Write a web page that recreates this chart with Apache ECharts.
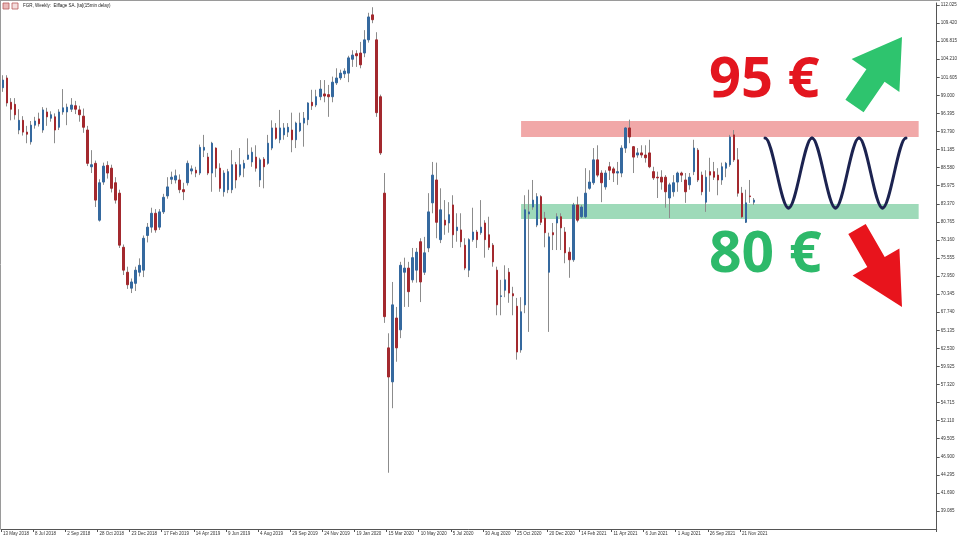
<!DOCTYPE html>
<html>
<head>
<meta charset="utf-8">
<script src="https://cdn.jsdelivr.net/npm/echarts@6/dist/echarts.min.js"></script>
<style>
html,body{margin:0;padding:0;background:#fff;}
#chart{width:960px;height:540px;}
</style>
</head>
<body>
<div id="chart"></div>
<script>
// ---- Data (weekly candles, Eiffage SA, from 13 May 2018) ----
const opens = [100.1,101.5,98.0,97.7,94.0,95.4,93.7,92.3,94.7,95.6,94.0,96.6,95.7,95.9,94.4,96.6,96.6,97.0,97.5,96.9,
96.0,94.0,88.7,89.2,81.0,86.5,88.9,88.5,86.4,84.9,77.1,73.5,71.2,71.9,73.5,73.8,78.8,80.0,82.0,80.0,
82.2,84.5,86.9,86.8,86.8,85.4,86.4,88.1,88.2,87.8,91.1,90.1,87.8,91.4,88.5,85.1,85.4,85.4,89.0,87.5,
88.5,89.8,89.4,90.1,86.8,89.8,89.2,91.4,94.3,92.6,93.3,93.7,94.0,92.6,93.9,95.0,95.5,98.0,97.6,98.8,
99.2,99.1,98.8,100.8,101.5,102.1,102.2,104.2,105.0,105.1,105.1,107.0,110.6,107.0,98.8,84.9,62.6,57.7,66.9,65.2,
73.5,74.1,72.4,73.8,77.9,73.5,77.0,83.5,86.8,78.2,81.0,80.6,83.2,79.5,79.6,77.4,73.8,78.2,79.3,79.2,
80.6,78.9,77.4,73.8,70.0,70.9,73.5,70.4,68.6,62.3,68.8,81.9,82.9,80.3,84.4,81.3,73.5,79.2,80.6,81.5,
79.3,76.4,75.3,83.2,81.5,81.5,85.6,86.4,89.7,87.8,85.8,88.7,88.4,87.8,87.8,91.4,94.3,91.6,90.4,90.7,
90.4,90.7,88.0,87.2,87.2,87.2,84.2,85.1,86.5,87.8,86.8,86.1,88.0,91.1,87.5,83.6,88.0,88.0,87.5,86.8,
88.5,89.0,93.3,89.7,84.9,80.7,84.5,83.6];
const closes = [101.2,97.9,97.0,96.2,95.4,93.7,93.4,94.7,95.3,94.9,96.9,95.9,96.2,94.0,96.6,97.2,97.3,97.6,97.0,96.2,
94.4,89.2,89.0,83.9,86.4,88.8,87.8,85.6,83.9,77.4,73.8,71.7,72.1,73.8,74.5,78.4,80.0,82.0,79.6,82.2,
84.3,85.8,87.2,87.4,85.4,85.1,89.2,88.4,87.8,91.5,91.5,87.8,92.1,88.5,85.6,87.8,88.0,89.0,86.8,89.0,
89.2,90.4,90.8,88.5,89.7,88.7,92.1,94.3,92.8,94.3,94.3,94.4,92.6,95.0,95.0,95.7,97.9,97.5,98.8,99.9,
98.9,98.8,100.9,101.5,102.2,102.5,104.4,104.8,104.7,103.4,107.0,110.3,109.9,96.5,90.7,67.1,58.4,68.8,62.6,74.5,
74.1,70.7,75.6,76.4,72.1,76.3,82.2,87.5,80.7,82.5,80.3,81.8,78.9,80.0,77.9,74.1,78.2,79.3,78.2,80.0,
78.2,77.1,75.0,68.8,70.1,72.4,70.5,70.1,62.0,67.8,82.5,82.2,83.9,84.4,80.7,79.2,78.6,78.9,81.5,79.9,
76.3,75.3,83.2,81.0,82.9,84.9,86.5,89.7,87.5,86.4,87.8,88.2,87.8,88.0,91.4,94.3,93.0,90.1,90.7,90.4,
90.0,88.7,87.1,87.1,86.5,85.1,86.1,86.4,87.8,87.5,85.1,87.2,91.4,86.8,85.1,87.2,87.5,87.2,86.8,88.7,
89.2,93.0,89.7,84.9,81.5,83.5,84.4,83.9];
const lows = [99.5,97.4,95.4,95.5,93.4,93.2,92.1,91.9,94.2,94.5,93.6,94.6,95.2,92.1,94.0,96.2,94.7,96.6,96.3,95.2,
93.6,88.8,87.8,82.9,80.8,86.1,87.0,85.0,83.4,77.0,73.1,71.1,70.5,70.8,72.9,72.8,77.8,79.2,79.2,79.6,
81.9,84.1,86.2,86.3,84.9,83.9,86.0,87.6,87.2,87.5,90.1,87.5,85.1,87.2,85.1,84.4,84.9,84.9,85.6,87.2,
87.2,89.7,88.7,88.0,85.8,85.6,89.0,91.1,92.6,92.1,92.6,93.0,90.8,91.4,93.7,91.6,94.7,96.9,97.3,98.3,
98.0,95.9,98.0,100.5,101.2,101.5,100.9,103.1,103.1,102.9,104.5,106.6,109.4,95.9,90.4,66.2,44.6,53.9,60.6,64.0,
68.5,68.5,72.0,72.0,69.2,73.1,76.4,82.0,78.4,77.7,78.9,79.2,77.0,77.9,77.1,73.8,72.8,77.9,77.0,78.9,
75.6,76.7,74.3,67.3,67.3,69.9,69.1,67.3,60.9,61.9,67.6,64.9,82.5,80.0,80.3,77.1,64.9,76.7,76.7,76.7,
74.8,72.7,75.0,80.7,81.3,81.3,85.4,86.1,87.2,83.6,85.4,86.8,86.5,86.1,87.2,90.7,92.1,87.8,90.0,90.0,
89.3,88.5,86.8,84.2,85.4,82.8,81.3,84.4,85.1,86.5,83.5,85.4,87.5,86.5,84.6,82.2,85.1,86.8,84.6,86.1,
87.2,88.7,89.4,84.4,81.3,80.6,83.5,83.2];
const highs = [101.9,101.9,98.6,98.6,97.0,96.0,94.6,95.3,95.9,96.5,97.3,97.2,96.7,96.4,97.0,99.9,97.8,98.6,98.2,97.5,
97.1,94.6,91.1,89.6,86.9,89.3,89.5,89.0,87.2,85.4,77.5,74.3,72.6,74.3,75.5,78.8,80.6,82.8,82.6,82.6,
84.8,87.2,88.0,88.3,87.6,86.4,89.6,88.9,88.7,91.9,93.3,90.7,92.3,91.5,89.2,88.2,88.4,91.1,89.4,91.4,
89.7,92.8,91.5,91.8,90.0,90.1,93.3,95.4,95.0,96.9,95.0,95.0,96.5,95.2,96.5,96.6,98.0,99.8,99.8,101.2,
101.2,100.5,101.7,102.9,102.7,102.9,104.7,105.5,105.5,106.7,108.4,110.9,111.7,108.1,99.1,87.8,64.7,72.1,68.5,75.0,
75.6,75.0,77.0,77.0,78.4,78.6,84.9,89.4,89.3,85.6,83.9,83.6,84.6,82.0,82.0,78.4,78.4,82.8,79.6,83.9,
81.0,81.5,77.7,74.3,72.4,74.5,74.1,71.4,69.8,69.9,84.6,85.4,86.8,84.9,84.6,82.2,79.2,80.6,82.0,82.0,
80.0,77.1,83.5,84.4,83.2,88.5,88.2,91.4,91.8,88.2,88.2,89.4,88.7,89.4,91.8,94.4,95.5,91.7,91.4,91.8,
91.8,92.6,88.7,88.0,88.2,87.5,86.4,87.5,88.0,88.0,87.8,87.8,92.6,91.4,88.0,88.2,90.0,89.4,88.5,89.3,
89.4,93.3,94.0,91.4,85.8,85.4,86.8,84.2];

// y-axis tick labels (price scale, right side)
const yTicks = [39.085,41.690,44.295,46.900,49.505,52.110,54.715,57.320,59.925,62.530,65.135,67.740,70.345,72.950,
75.555,78.160,80.765,83.370,85.975,88.580,91.185,93.790,96.395,99.000,101.605,104.210,106.815,109.420,112.025];

// x-axis labelled weeks (every 8 weeks, up to 21 Nov 2021)
const xLabelEvery = 8;
const xLastLabelIndex = 184;

// support / resistance zones
const resistanceZone = [93.0, 95.3];
const supportZone = [81.18, 83.34];
const titleText = 'FGR, Weekly:  Eiffage SA. [ta](15min delay)';

// categories: weekly dates
const MONTHS = ['Jan','Feb','Mar','Apr','May','Jun','Jul','Aug','Sep','Oct','Nov','Dec'];
const NCAT = 233;
const startMs = Date.UTC(2018, 4, 13);
const cats = [];
for (let i = 0; i < NCAT; i++) {
  const d = new Date(startMs + i * 7 * 86400000);
  cats.push(d.getUTCDate() + ' ' + MONTHS[d.getUTCMonth()] + ' ' + d.getUTCFullYear());
}
const showX = (idx) => idx % xLabelEvery === 0 && idx <= xLastLabelIndex;

const wickData = opens.map((o, i) => [o, closes[i], lows[i], highs[i]]);
const bodyData = opens.map((o, i) => [o, closes[i], Math.min(o, closes[i]), Math.max(o, closes[i])]);

const FONT = 'Liberation Sans';
const chart = echarts.init(document.getElementById('chart'), null, {renderer: 'canvas'});

// decorative wave (peaks / troughs in pixels) drawn as cubic bezier segments
const wavePts = [[765,138],[788.5,208],[812,138],[835.5,208],[859,138],[882.5,208],[906,138]];
const waveEls = [];
for (let i = 1; i < wavePts.length; i++) {
  const [x0, y0] = wavePts[i-1], [x1, y1] = wavePts[i];
  const h = x1 - x0;
  waveEls.push({
    type: 'bezierCurve',
    shape: {x1: x0, y1: y0, cpx1: x0 + h/3, cpy1: y0, cpx2: x0 + 2*h/3, cpy2: y1, x2: x1, y2: y1},
    style: {fill: null, stroke: '#1c2350', lineWidth: 3, lineCap: 'round'},
    silent: true, z: 100
  });
}

const option = {
  animation: false,
  backgroundColor: '#ffffff',
  grid: {left: 0, right: 20, top: 3, bottom: 11, containLabel: false},
  xAxis: {
    type: 'category',
    data: cats,
    boundaryGap: true,
    axisLine: {lineStyle: {color: '#555', width: 1}},
    axisTick: {show: true, interval: (idx) => showX(idx), length: 3, lineStyle: {color: '#555'}},
    axisLabel: {interval: (idx) => showX(idx), fontSize: 4.5, color: '#333', fontFamily: FONT, align: 'left', margin: 2},
    splitLine: {show: false}
  },
  yAxis: {
    type: 'value',
    position: 'right',
    min: 36.49,
    max: 112.31,
    scale: true,
    axisLine: {show: true, lineStyle: {color: '#555', width: 1}},
    axisTick: {show: true, length: 3, customValues: yTicks, lineStyle: {color: '#555'}},
    axisLabel: {customValues: yTicks, fontSize: 4.5, color: '#333', fontFamily: FONT, margin: 4,
      formatter: v => Number(v).toFixed(3)},
    splitLine: {show: false}
  },
  series: [
    {
      type: 'candlestick',
      name: 'wick',
      data: wickData,
      barWidth: 1,
      silent: true,
      itemStyle: {color: '#8c8c8c', color0: '#8c8c8c', borderColor: '#8c8c8c', borderColor0: '#8c8c8c', borderWidth: 1}
    },
    {
      type: 'candlestick',
      name: 'body',
      data: bodyData,
      barWidth: 2,
      silent: true,
      itemStyle: {color: '#35699f', color0: '#a3292e', borderColor: '#35699f', borderColor0: '#a3292e', borderWidth: 1},
      markArea: {
        silent: true,
        label: {show: false},
        data: [
          [{xAxis: cats[129], yAxis: resistanceZone[1], itemStyle: {color: 'rgba(228,82,82,0.5)'}},
           {xAxis: cats[228], yAxis: resistanceZone[0]}],
          [{xAxis: cats[129], yAxis: supportZone[1], itemStyle: {color: 'rgba(40,172,100,0.45)'}},
           {xAxis: cats[228], yAxis: supportZone[0]}]
        ]
      }
    }
  ],
  graphic: [
    {type: 'line', shape: {x1: 0, y1: 0.5, x2: 940, y2: 0.5}, style: {stroke: '#9a9a9a', lineWidth: 1}, silent: true},
    {type: 'line', shape: {x1: 0.5, y1: 0, x2: 0.5, y2: 529}, style: {stroke: '#9a9a9a', lineWidth: 1}, silent: true},
    {type: 'rect', shape: {x: 3, y: 3, width: 6, height: 6}, style: {fill: '#eab8b8', stroke: '#b85c5c', lineWidth: 0.8}, silent: true},
    {type: 'rect', shape: {x: 12, y: 3, width: 6, height: 6}, style: {fill: '#f3dede', stroke: '#b85c5c', lineWidth: 0.8}, silent: true},
    {type: 'text', x: 23, y: 6, style: {text: titleText, fontSize: 4.5, fontFamily: FONT, fill: '#222', textVerticalAlign: 'middle'}, silent: true},
    ...waveEls,
    {type: 'text', x: 709, y: 81, style: {text: '95 €', fontSize: 56, fontWeight: 'bold', fontFamily: 'Open Sans', fill: '#e3161f', textVerticalAlign: 'middle'}, silent: true, z: 100},
    {type: 'text', x: 709, y: 256, style: {text: '80 €', fontSize: 57, fontWeight: 'bold', fontFamily: 'Open Sans', fill: '#2db96a', textVerticalAlign: 'middle'}, silent: true, z: 100},
    {type: 'polygon', shape: {points: [[845.4,99.8],[866.4,69.3],[851.6,59.1],[902,37],[899.4,91.9],[884.6,81.7],[863.6,112.2]]},
      style: {fill: '#2ec46e'}, silent: true, z: 100},
    {type: 'polygon', shape: {points: [[848.3,234],[867.3,267],[852.6,275.5],[902,307],[899.4,248.5],[884.7,257],[865.7,224]]},
      style: {fill: '#e8141c'}, silent: true, z: 100}
  ]
};
chart.setOption(option);
</script>
</body>
</html>
